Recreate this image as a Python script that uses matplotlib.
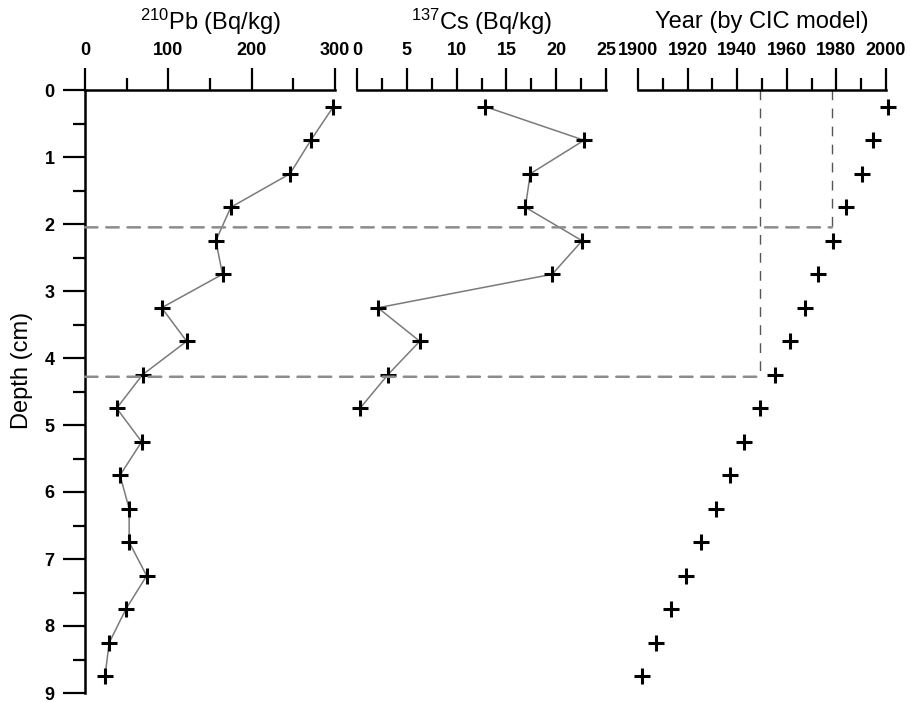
import matplotlib
matplotlib.use("Agg")
import matplotlib.pyplot as plt
from matplotlib.patches import ConnectionPatch
from matplotlib.ticker import MultipleLocator

plt.rcParams['font.family'] = ['Liberation Sans', 'DejaVu Sans']
plt.rcParams['mathtext.fontset'] = 'custom'
plt.rcParams['mathtext.rm'] = 'Liberation Sans'
plt.rcParams['mathtext.default'] = 'regular'

# Sample depths (cm), mid-points of 0.5 cm slices
depth = [0.25, 0.75, 1.25, 1.75, 2.25, 2.75, 3.25, 3.75, 4.25,
         4.75, 5.25, 5.75, 6.25, 6.75, 7.25, 7.75, 8.25, 8.75]

# 210Pb activity (Bq/kg)
pb210 = [298, 271, 246, 175, 157, 165, 92, 122, 69,
         38, 68, 42, 53, 53, 74, 49, 29, 24]

# 137Cs activity (Bq/kg), measured in the upper 5 cm
cs_depth = [0.25, 0.75, 1.25, 1.75, 2.25, 2.75, 3.25, 3.75, 4.25, 4.75]
cs137 = [12.9, 22.8, 17.4, 16.9, 22.6, 19.6, 2.1, 6.3, 3.1, 0.3]

# CIC-model ages
year = [2001.0, 1994.6, 1990.2, 1983.9, 1978.8, 1972.7, 1967.3, 1961.3, 1955.2,
        1949.2, 1942.7, 1937.1, 1931.5, 1925.3, 1919.4, 1913.2, 1907.3, 1901.5]

# Reference horizons: (depth, year)
marker_depths = [2.05, 4.28]
marker_years = [1978.2, 1949.3]

W, H = 916, 702
fig = plt.figure(figsize=(W / 100, H / 100), dpi=100)

y_top, y_bot = 90, 693


def make_axes(x0, x1):
    return fig.add_axes([x0 / W, 1 - y_bot / H, (x1 - x0) / W, (y_bot - y_top) / H])


ax1 = make_axes(85, 335)
ax2 = make_axes(357, 606)
ax3 = make_axes(638, 886)

tick_kw = dict(width=1.6, color='black', labelsize=13)

for ax in (ax1, ax2, ax3):
    ax.set_ylim(9, 0)
    ax.patch.set_alpha(0)
    for s in ('bottom', 'right'):
        ax.spines[s].set_visible(False)
    ax.spines['top'].set_linewidth(1.8)
    ax.xaxis.set_ticks_position('top')
    ax.tick_params(axis='x', which='major', direction='out', length=16, pad=6, **tick_kw)
    ax.tick_params(axis='x', which='minor', direction='out', length=8.5, width=1.6)

for ax in (ax2, ax3):
    ax.spines['left'].set_visible(False)
    ax.tick_params(axis='y', which='both', left=False, labelleft=False)

ax1.spines['left'].set_linewidth(1.8)
ax1.yaxis.set_major_locator(MultipleLocator(1))
ax1.yaxis.set_minor_locator(MultipleLocator(0.5))
ax1.tick_params(axis='y', which='major', direction='out', length=16, pad=6, **tick_kw)
ax1.tick_params(axis='y', which='minor', direction='out', length=8.5, width=1.6)

ax1.set_xlim(0, 300)
ax1.xaxis.set_major_locator(MultipleLocator(100))
ax1.xaxis.set_minor_locator(MultipleLocator(50))

ax2.set_xlim(0, 25)
ax2.xaxis.set_major_locator(MultipleLocator(5))
ax2.xaxis.set_minor_locator(MultipleLocator(2.5))

ax3.set_xlim(1900, 2000)
ax3.xaxis.set_major_locator(MultipleLocator(20))
ax3.xaxis.set_minor_locator(MultipleLocator(10))

for ax in (ax1, ax2, ax3):
    for lab in ax.get_xticklabels() + ax.get_yticklabels():
        lab.set_fontweight('bold')

mk = dict(marker='+', markersize=12, markeredgewidth=2.2, color='black', clip_on=False, zorder=5)
ax1.plot(pb210, depth, color='#7a7a7a', lw=1.1, zorder=3, clip_on=False)
ax1.plot(pb210, depth, ls='none', **mk)
ax2.plot(cs137, cs_depth, color='#7a7a7a', lw=1.1, zorder=3, clip_on=False)
ax2.plot(cs137, cs_depth, ls='none', **mk)
ax3.plot(year, depth, ls='none', **mk)

# Horizontal dashed guides from the depth axis to the dated horizon
for d, yr in zip(marker_depths, marker_years):
    con = ConnectionPatch(xyA=(0, d), coordsA=ax1.transData,
                          xyB=(yr, d), coordsB=ax3.transData,
                          color='#8c8c8c', lw=1.8, linestyle=(0, (5, 3.5)), zorder=2)
    fig.add_artist(con)
    ax3.plot([yr, yr], [0, d], color='#555555', lw=1.0, linestyle=(0, (7, 6)),
             clip_on=False, zorder=2)

title_kw = dict(fontsize=17, ha='center', va='center')
fig.text((85 + 335) / 2 / W, 1 - 22 / H, r'$^{210}$Pb (Bq/kg)', **title_kw)
fig.text((357 + 606) / 2 / W, 1 - 22 / H, r'$^{137}$Cs (Bq/kg)', **title_kw)
fig.text((638 + 886) / 2 / W, 1 - 22 / H, 'Year (by CIC model)', **title_kw)
fig.text(22 / W, 1 - 370 / H, 'Depth (cm)', rotation=90, **title_kw)

fig.savefig('out.png', dpi=100)
